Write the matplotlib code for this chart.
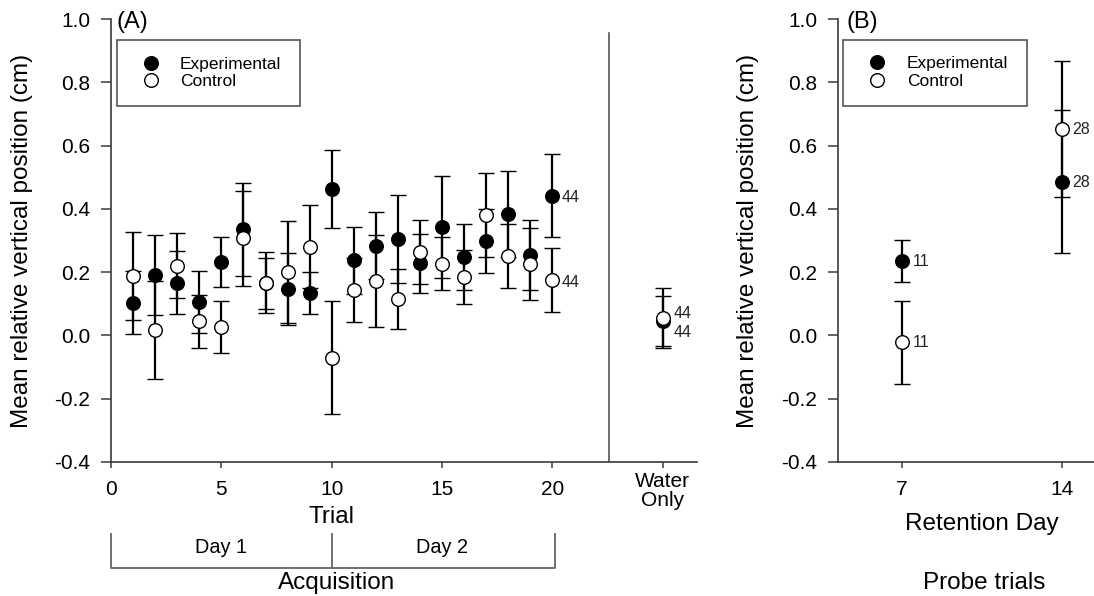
import numpy as np
import matplotlib
matplotlib.use('Agg')
import matplotlib.pyplot as plt

plt.rcParams['font.family'] = ['Liberation Sans', 'DejaVu Sans']

# ---- data (panel A: acquisition) ----
trials = np.arange(1, 21)
exp_mean = [0.103, 0.191, 0.166, 0.104, 0.233, 0.336, 0.166, 0.148, 0.133, 0.463,
            0.238, 0.284, 0.305, 0.228, 0.342, 0.247, 0.299, 0.385, 0.254, 0.442]
exp_se = [0.100, 0.127, 0.100, 0.098, 0.079, 0.147, 0.097, 0.114, 0.066, 0.123,
          0.106, 0.107, 0.139, 0.094, 0.162, 0.104, 0.102, 0.136, 0.111, 0.132]
ctl_mean = [0.188, 0.017, 0.220, 0.045, 0.027, 0.307, 0.164, 0.201, 0.280, -0.071,
            0.143, 0.172, 0.115, 0.263, 0.227, 0.185, 0.381, 0.251, 0.226, 0.175]
ctl_se = [0.140, 0.155, 0.103, 0.084, 0.083, 0.150, 0.080, 0.162, 0.131, 0.178,
          0.102, 0.145, 0.096, 0.102, 0.085, 0.085, 0.133, 0.102, 0.115, 0.100]
n_trial = '44'

# water only
water_x = 25
water_exp, water_exp_se = 0.045, 0.080
water_ctl, water_ctl_se = 0.056, 0.095
n_water = '44'

# ---- data (panel B: probe trials) ----
days = [7, 14]
probe_exp = [0.236, 0.486]
probe_exp_se = [0.066, 0.226]
probe_ctl = [-0.022, 0.653]
probe_ctl_se = [0.132, 0.216]
n_probe = ['11', '28']

xticks_a = [0, 5, 10, 15, 20, 25]
xticklabels_a = ['0', '5', '10', '15', '20', '']
yticks = np.arange(-0.4, 1.01, 0.2)

# ---- styles ----
W, H = 1094, 596
spine_c = '#3a3a3a'
eb_kw = dict(ecolor='black', elinewidth=1.6, capsize=6, capthick=1.6,
             ms=9.8, mec='black', mew=1.0, ls='none')
tick_fs = 15
label_fs = 17.5

fig = plt.figure(figsize=(W / 100, H / 100), dpi=100)
ax_a = fig.add_axes([111 / W, 1 - 461.7 / H, 586 / W, 442.4 / H])
ax_b = fig.add_axes([838 / W, 1 - 461.7 / H, 256 / W, 442.4 / H])

for ax in (ax_a, ax_b):
    for s in ('top', 'right'):
        ax.spines[s].set_visible(False)
    for s in ('left', 'bottom'):
        ax.spines[s].set_color(spine_c)
        ax.spines[s].set_linewidth(1.2)
    ax.set_ylim(-0.4, 1.0)
    ax.set_yticks(yticks)
    ax.set_yticklabels(['%.1f' % v for v in yticks])
    ax.tick_params(axis='y', length=7, width=1.1, pad=8, labelsize=tick_fs, color=spine_c)
    ax.tick_params(axis='x', length=4, width=1.1, pad=9, labelsize=tick_fs, color=spine_c)

# ---- panel A ----
ax_a.set_xlim(0, 26.55)
e1 = ax_a.errorbar(trials, exp_mean, yerr=exp_se, fmt='o', mfc='black', **eb_kw)
e2 = ax_a.errorbar(trials, ctl_mean, yerr=ctl_se, fmt='o', mfc='white', **eb_kw)
ax_a.errorbar([water_x], [water_exp], yerr=[water_exp_se], fmt='o', mfc='black', **eb_kw)
ax_a.errorbar([water_x], [water_ctl], yerr=[water_ctl_se], fmt='o', mfc='white', **eb_kw)
ax_a.set_xticks(xticks_a)
ax_a.set_xticklabels(xticklabels_a)
ax_a.axvline(22.57, ymin=0, ymax=0.97, color='#555555', lw=1.2)

n_kw = dict(textcoords='offset points', fontsize=11.5, color='#222222', va='center')
ax_a.annotate(n_trial, (trials[-1], exp_mean[-1]), xytext=(6.5, -1), **n_kw)
ax_a.annotate(n_trial, (trials[-1], ctl_mean[-1]), xytext=(6.5, -1.5), **n_kw)
ax_a.annotate(n_water, (water_x, water_ctl), xytext=(8, 3), **n_kw)
ax_a.annotate(n_water, (water_x, water_exp), xytext=(8, -8), **n_kw)

xt = ax_a.get_xaxis_transform()
ax_a.text(water_x, -0.066, 'Water\nOnly', transform=xt, ha='center', va='center',
          fontsize=tick_fs, linespacing=1.0)
ax_a.text(10, -0.139, 'Trial', transform=xt, ha='center', va='baseline', fontsize=label_fs)

# day bracket under the axis
br_c = '#666666'
ax_a.plot([0, 0, 20.1, 20.1], [-0.164, -0.241, -0.241, -0.164], transform=xt,
          color=br_c, lw=1.3, clip_on=False)
ax_a.plot([10, 10], [-0.164, -0.241], transform=xt, color=br_c, lw=1.3, clip_on=False)
ax_a.text(5, -0.207, 'Day 1', transform=xt, ha='center', va='baseline', fontsize=14.3)
ax_a.text(15, -0.207, 'Day 2', transform=xt, ha='center', va='baseline', fontsize=14.3)
ax_a.text(10.2, -0.288, 'Acquisition', transform=xt, ha='center', va='baseline', fontsize=label_fs)

ax_a.text(-0.152, 0.5, 'Mean relative vertical position (cm)', transform=ax_a.transAxes,
          rotation=90, ha='center', va='center', fontsize=label_fs)
ax_a.text(0.0097, 0.994, '(A)', transform=ax_a.transAxes, ha='left', va='center', fontsize=17)

leg_kw = dict(loc='upper left', mode='expand', borderaxespad=0, fontsize=12.5,
              handlelength=2.0, handletextpad=0.7, borderpad=0.95, labelspacing=0.15,
              fancybox=False, edgecolor='#555555', framealpha=1)
lg = ax_a.legend([e1[0], e2[0]], ['Experimental', 'Control'],
                 bbox_to_anchor=(0.0097, 0.0, 0.313, 0.953), **leg_kw)
lg.get_frame().set_linewidth(1.2)

# ---- panel B ----
ax_b.set_xlim(4.2, 15.4)
b1 = ax_b.errorbar(days, probe_exp, yerr=probe_exp_se, fmt='o', mfc='black', **eb_kw)
b2 = ax_b.errorbar(days, probe_ctl, yerr=probe_ctl_se, fmt='o', mfc='white', **eb_kw)
ax_b.set_xticks(days)
ax_b.set_xticklabels([str(d) for d in days])
for d, ye, yc, n in zip(days, probe_exp, probe_ctl, n_probe):
    ax_b.annotate(n, (d, ye), xytext=(7.5, -0.5), **n_kw)
    ax_b.annotate(n, (d, yc), xytext=(7.5, -0.5), **n_kw)

xtb = ax_b.get_xaxis_transform()
ax_b.text(10.5, -0.155, 'Retention Day', transform=xtb, ha='center', va='baseline', fontsize=label_fs)
ax_b.text(10.6, -0.287, 'Probe trials', transform=xtb, ha='center', va='baseline', fontsize=label_fs)
ax_b.text(-0.352, 0.5, 'Mean relative vertical position (cm)', transform=ax_b.transAxes,
          rotation=90, ha='center', va='center', fontsize=label_fs)
ax_b.text(0.034, 0.994, '(B)', transform=ax_b.transAxes, ha='left', va='center', fontsize=17)
lg2 = ax_b.legend([b1[0], b2[0]], ['Experimental', 'Control'],
                  bbox_to_anchor=(0.0207, 0.0, 0.716, 0.954), **leg_kw)
lg2.get_frame().set_linewidth(1.2)

fig.savefig('out.png', dpi=100)
